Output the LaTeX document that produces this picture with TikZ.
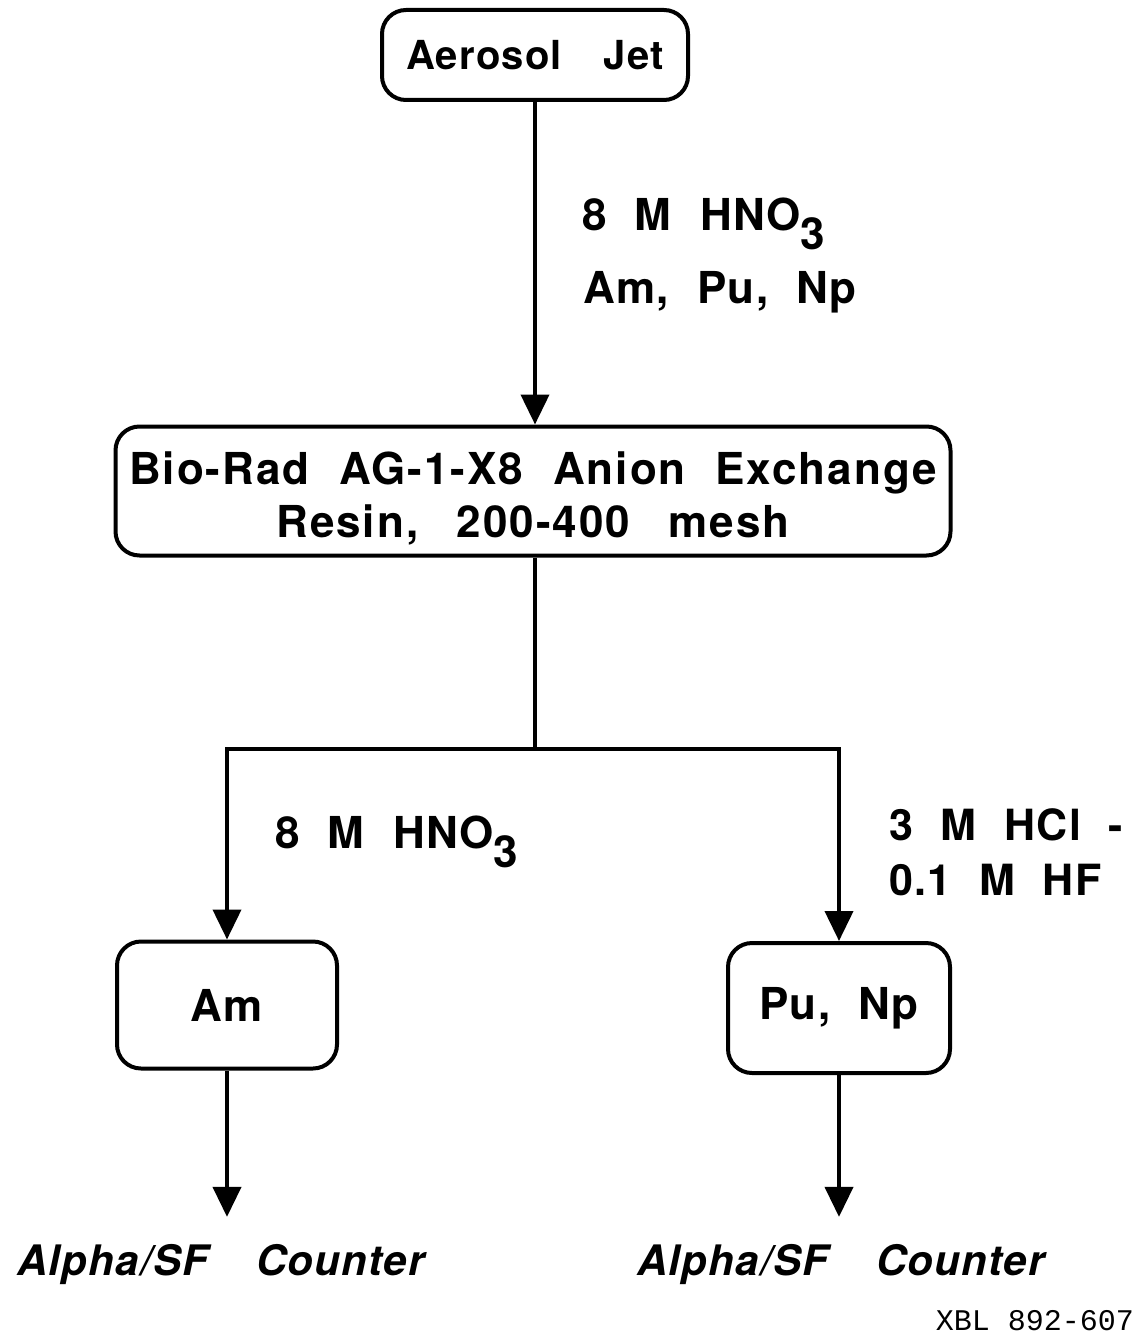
\documentclass[tikz,border=0pt]{standalone}
\usepackage{fontspec}
\setmainfont{TeX Gyre Heros}[LetterSpace=3,WordSpace=2.1]
\newfontfamily\tagfont{Liberation Mono}
\usepackage{tikz}
\usetikzlibrary{calc,arrows.meta,positioning}

\newcommand{\flowfont}{\fontsize{22}{26.5}\selectfont\bfseries}
\newcommand{\chemsub}[1]{\raisebox{-9.5pt}{#1}}
\newcommand{\wgap}{\hspace{0.2em} }

\begin{document}
\begin{tikzpicture}[x=0.5pt,y=-0.5pt,>=Latex,line width=2pt]
  \tikzset{
    stage/.style={draw, rounded corners=12pt, align=center, inner sep=0pt,
      font=\flowfont},
    flow/.style={-{Triangle[length=15pt,width=14pt]}},
    reagent/.style={anchor=base west, inner sep=0pt, align=left, font=\flowfont},
    detector/.style={anchor=base, inner xsep=0pt, inner ysep=12.5pt,
      font=\fontsize{21}{25}\selectfont\bfseries\itshape},
  }
  \useasboundingbox (0,0) rectangle (1141,1343);

  % Boxes
  \node[stage, minimum width=153pt, minimum height=45pt,
        font=\fontsize{20}{24}\selectfont\bfseries] (aerosol) at (535,55)
        {Aerosol\hspace{0.4em} Jet};
  \node[stage, minimum width=417.5pt, minimum height=64.5pt,
        font=\flowfont\addfontfeatures{LetterSpace=4.5}] (biorad) at (533,491)
        {\rule{0pt}{23.8pt}Bio-Rad AG-1-X8 Anion Exchange\\Resin,\wgap 200-400\wgap mesh};
  \node[stage, minimum width=110pt, minimum height=63.5pt] (am) at (227,1005) {Am};
  \node[stage, minimum width=111pt, minimum height=65pt] (punp) at (839,1008) {Pu, Np};

  % Detectors
  \node[detector] (cntl) at (221,1275) {Alpha/SF\hspace{0.5em} Counter};
  \node[detector] (cntr) at (841,1275) {Alpha/SF\hspace{0.5em} Counter};

  % Reagents
  \node[reagent] (elute) at (580,230) {8 M HNO\chemsub{3}};
  \node[reagent] (actin) at (581,303) {Am, Pu, Np};
  \node[reagent] (amwash) at (273,848) {8 M HNO\chemsub{3}};
  \node[reagent, anchor=north west, font=\fontsize{21.5}{27.5}\selectfont\bfseries]
        (hclhf) at (887,807) {3 M HCl -\\0.1 M HF};

  % Connectors
  \coordinate (split) at (535,749);
  \draw[flow] (aerosol.south) -- (aerosol.south |- biorad.north);
  \draw (biorad.south -| split) -- (split);
  \draw[flow] (split) -| (am.north);
  \draw[flow] (split) -| (punp.north);
  \draw[flow] (am.south) -- (am.south |- cntl.north);
  \draw[flow] (punp.south) -- (punp.south |- cntr.north);

  \node[anchor=base east, inner sep=0pt, font=\tagfont\fontsize{15}{18}\selectfont]
        (tag) at (1136,1330) {XBL 892-607};
\end{tikzpicture}
\end{document}
